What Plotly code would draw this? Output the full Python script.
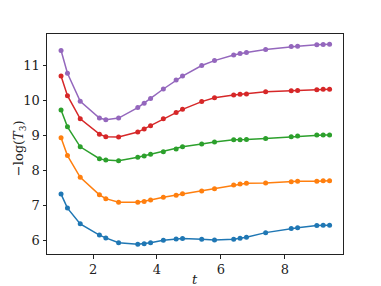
import plotly.graph_objects as go

t = [1.0, 1.2, 1.6, 2.2, 2.4, 2.8, 3.4, 3.6, 3.8, 4.2, 4.6, 4.8,
     5.4, 5.8, 6.4, 6.6, 6.8, 7.4, 8.2, 8.4, 9.0, 9.2, 9.4]

s_blue = [7.32, 6.92, 6.47, 6.15, 6.07, 5.93, 5.89, 5.90, 5.93, 6.00, 6.04, 6.05,
          6.03, 6.01, 6.03, 6.06, 6.09, 6.22, 6.34, 6.36, 6.42, 6.43, 6.43]
s_orange = [8.93, 8.42, 7.80, 7.30, 7.19, 7.09, 7.09, 7.11, 7.15, 7.23, 7.29, 7.33,
            7.41, 7.47, 7.58, 7.61, 7.63, 7.64, 7.67, 7.69, 7.69, 7.70, 7.70]
s_green = [9.72, 9.24, 8.67, 8.33, 8.29, 8.27, 8.37, 8.41, 8.46, 8.53, 8.61, 8.67,
           8.75, 8.81, 8.87, 8.87, 8.88, 8.91, 8.96, 8.98, 9.01, 9.01, 9.01]
s_red = [10.69, 10.13, 9.47, 9.03, 8.96, 8.95, 9.09, 9.18, 9.27, 9.47, 9.65, 9.74,
         9.96, 10.07, 10.15, 10.17, 10.18, 10.24, 10.27, 10.28, 10.30, 10.31, 10.31]
s_purple = [11.42, 10.77, 9.97, 9.49, 9.44, 9.49, 9.79, 9.91, 10.05, 10.32, 10.58, 10.69,
            10.99, 11.13, 11.29, 11.33, 11.36, 11.45, 11.53, 11.54, 11.58, 11.59, 11.60]

series = [s_blue, s_orange, s_green, s_red, s_purple]
colors = ["#1f77b4", "#ff7f0e", "#2ca02c", "#d62728", "#9467bd"]

fig = go.Figure()
for ys, c in zip(series, colors):
    fig.add_trace(go.Scatter(x=t, y=ys, mode="lines+markers",
                             line=dict(color=c, width=1.5),
                             marker=dict(color=c, size=5),
                             showlegend=False, cliponaxis=False))

font = dict(family="DejaVu Serif", size=13, color="#222222")
axis_common = dict(showline=True, linecolor="#222222", linewidth=1, mirror=True,
                   ticks="outside", ticklen=3.5, tickwidth=0.8, tickcolor="#222222",
                   showgrid=False, zeroline=False, tickfont=font, automargin=False)

# page body has an 8px margin, so the figure is offset by 8px
fig.update_layout(
    width=365, height=280,
    margin=dict(l=39, r=30, t=26, b=34),
    plot_bgcolor="white", paper_bgcolor="white",
    font=font,
    xaxis=dict(range=[0.56, 9.82], tickvals=[2, 4, 6, 8], **axis_common),
    yaxis=dict(range=[5.61, 11.89], tickvals=[6, 7, 8, 9, 10, 11], **axis_common),
    annotations=[
        dict(text="<i>t</i>", xref="paper", yref="paper", x=0.5, y=-0.114,
             xanchor="center", yanchor="middle", showarrow=False, font=font),
        dict(text="−log(<i>T</i><sub>3</sub>)", xref="paper", yref="paper",
             x=-0.092, y=0.48, xanchor="center", yanchor="middle",
             textangle=-90, showarrow=False, font=font),
    ],
)

fig.write_html("out.html")
